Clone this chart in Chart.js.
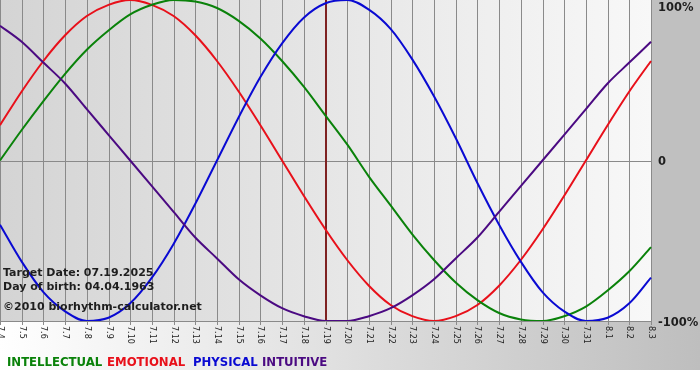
<!DOCTYPE html>
<html>
<head>
<meta charset="utf-8">
<script src="https://cdn.jsdelivr.net/npm/chart.js@4"></script>
<style>
  html, body { margin: 0; padding: 0; background: #fff; }
  #wrap { width: 700px; height: 380px; }
</style>
</head>
<body>
<div id="wrap"><canvas id="bioChart" width="700" height="380"></canvas></div>
<script>
// days shown (month.day)
let labels = ['7.4','7.5','7.6','7.7','7.8','7.9','7.10','7.11','7.12','7.13','7.14','7.15','7.16','7.17',
  '7.18','7.19','7.20','7.21','7.22','7.23','7.24','7.25','7.26','7.27','7.28','7.29','7.30','7.31','8.1','8.2','8.3'];

// curve values per day, -1 .. 1
let intellectual = [0.00,0.19,0.37,0.54,0.69,0.81,0.91,0.97,1.00,0.99,0.95,0.87,0.76,0.62,0.46,0.28,
  0.10,-0.10,-0.28,-0.46,-0.62,-0.76,-0.87,-0.95,-0.99,-1.00,-0.97,-0.91,-0.81,-0.69,-0.54];
let emotional = [0.22,0.43,0.62,0.78,0.90,0.97,1.00,0.97,0.90,0.78,0.62,0.43,0.22,0.00,-0.22,-0.43,
  -0.62,-0.78,-0.90,-0.97,-1.00,-0.97,-0.90,-0.78,-0.62,-0.43,-0.22,0.00,0.22,0.43,0.62];
let physical = [-0.40,-0.63,-0.82,-0.94,-1.00,-0.98,-0.89,-0.73,-0.52,-0.27,0.00,0.27,0.52,0.73,0.89,0.98,
  1.00,0.94,0.82,0.63,0.40,0.14,-0.14,-0.40,-0.63,-0.82,-0.94,-1.00,-0.98,-0.89,-0.73];
let intuitive = [0.84,0.74,0.61,0.48,0.32,0.16,0.00,-0.16,-0.32,-0.48,-0.61,-0.74,-0.84,-0.92,-0.97,-1.00,
  -1.00,-0.97,-0.92,-0.84,-0.74,-0.61,-0.48,-0.32,-0.16,0.00,0.16,0.32,0.48,0.61,0.74];

let yTickValues = [1, 0, -1];
let yTickLabels = ['100%', '0', '-100%'];
let targetDay = '7.19';
let infoLines = ['Target Date: 07.19.2025', 'Day of birth: 04.04.1963', '©2010 biorhythm-calculator.net'];
let legendNames = ['INTELLECTUAL', 'EMOTIONAL', 'PHYSICAL', 'INTUITIVE'];

let colorInt = '#0a820a';
let colorEmo = '#e8101a';
let colorPhy = '#0a0ad2';
let colorItu = '#4b0a82';
let colorGrid = '#8a8a8a';
let colorText = '#1e1e1e';

let boldFont = 'bold 11px "DejaVu Sans", Verdana, sans-serif';

// backgrounds, grid, target line
let backPlugin = {
    id: 'back',
    beforeDraw(chart) {
        let ctx = chart.ctx;
        let a = chart.chartArea;
        let W = chart.width;
        ctx.save();
        ctx.fillStyle = '#ffffff';
        ctx.fillRect(0, 0, W, chart.height);
        // right margin
        ctx.fillStyle = '#c0c0c0';
        ctx.fillRect(a.right, 0, W - a.right, a.bottom);
        // bottom band
        let g = ctx.createLinearGradient(0, 0, W, 0);
        g.addColorStop(0, '#ffffff');
        g.addColorStop(1, '#bebebe');
        ctx.fillStyle = g;
        ctx.fillRect(0, a.bottom, W, 370 - a.bottom);
        // plot area
        let pg = ctx.createLinearGradient(a.left, 0, a.right, 0);
        pg.addColorStop(0, '#d4d4d4');
        pg.addColorStop(1, '#f8f8f8');
        ctx.fillStyle = pg;
        ctx.fillRect(a.left, a.top, a.right - a.left, a.bottom - a.top);
        ctx.restore();
    },
    beforeDatasetsDraw(chart) {
        let ctx = chart.ctx;
        let a = chart.chartArea;
        let xs = chart.scales.x, ys = chart.scales.y;
        ctx.save();
        ctx.strokeStyle = colorGrid;
        ctx.lineWidth = 1;
        ctx.beginPath();
        labels.forEach((l, i) => {
            let x = Math.round(xs.getPixelForValue(i)) + 0.5;
            ctx.moveTo(x, a.top);
            ctx.lineTo(x, a.bottom + 4);
        });
        yTickValues.forEach(v => {
            let y = Math.round(ys.getPixelForValue(v)) + 0.5;
            if (v === 1) return;
            ctx.moveTo(a.left, y);
            ctx.lineTo(a.right, y);
        });
        ctx.stroke();
        // target date
        let tx = Math.round(xs.getPixelForValue(labels.indexOf(targetDay)));
        ctx.strokeStyle = '#7e2222';
        ctx.lineWidth = 2;
        ctx.beginPath();
        ctx.moveTo(tx, a.top);
        ctx.lineTo(tx, a.bottom);
        ctx.stroke();
        ctx.restore();
    },
    afterDraw(chart) {
        let ctx = chart.ctx;
        let a = chart.chartArea;
        let xs = chart.scales.x, ys = chart.scales.y;
        ctx.save();
        // day labels, turned clockwise
        ctx.fillStyle = '#222222';
        ctx.font = '8px "DejaVu Sans", Verdana, sans-serif';
        ctx.textAlign = 'left';
        ctx.textBaseline = 'middle';
        labels.forEach((l, i) => {
            ctx.save();
            ctx.translate(Math.round(xs.getPixelForValue(i)) + 0.5, a.bottom + 5);
            ctx.rotate(Math.PI / 2);
            ctx.fillText(l, 0, 0);
            ctx.restore();
        });
        // percent labels
        ctx.font = 'bold 11.5px "DejaVu Sans", Verdana, sans-serif';
        ctx.fillStyle = colorText;
        yTickValues.forEach((v, i) => {
            let y = Math.max(ys.getPixelForValue(v) + 2, 8);
            ctx.fillText(yTickLabels[i], a.right + 7, y);
        });
        // info text
        ctx.font = boldFont;
        ctx.textBaseline = 'alphabetic';
        ctx.fillText(infoLines[0], 3, 276);
        ctx.fillText(infoLines[1], 3, 290);
        ctx.fillText(infoLines[2], 3, 310);
        // legend
        ctx.font = 'bold 13px "DejaVu Sans Condensed", "DejaVu Sans", sans-serif';
        let lx = [7, 107, 193, 262];
        let lc = [colorInt, colorEmo, colorPhy, colorItu];
        legendNames.forEach((n, i) => {
            ctx.fillStyle = lc[i];
            ctx.fillText(n, lx[i], 366);
        });
        ctx.restore();
    }
};

function lineSet(name, data, color) {
    return {
        label: name,
        data: data,
        borderColor: color,
        borderWidth: 2,
        pointRadius: 0,
        cubicInterpolationMode: 'monotone',
        fill: false
    };
}

let bioChart = new Chart(document.getElementById('bioChart').getContext('2d'), {
    type: 'line',
    data: {
        labels: labels,
        datasets: [
            lineSet('INTUITIVE', intuitive, colorItu),
            lineSet('PHYSICAL', physical, colorPhy),
            lineSet('INTELLECTUAL', intellectual, colorInt),
            lineSet('EMOTIONAL', emotional, colorEmo)
        ]
    },
    options: {
        responsive: false,
        devicePixelRatio: 1,
        animation: false,
        layout: { padding: { left: 0, top: 0, right: 49, bottom: 59 } },
        scales: {
            x: { display: false, offset: false },
            y: { display: false, min: -1, max: 1 }
        },
        plugins: {
            legend: { display: false },
            tooltip: { enabled: false }
        }
    },
    plugins: [backPlugin]
});
</script>
</body>
</html>
